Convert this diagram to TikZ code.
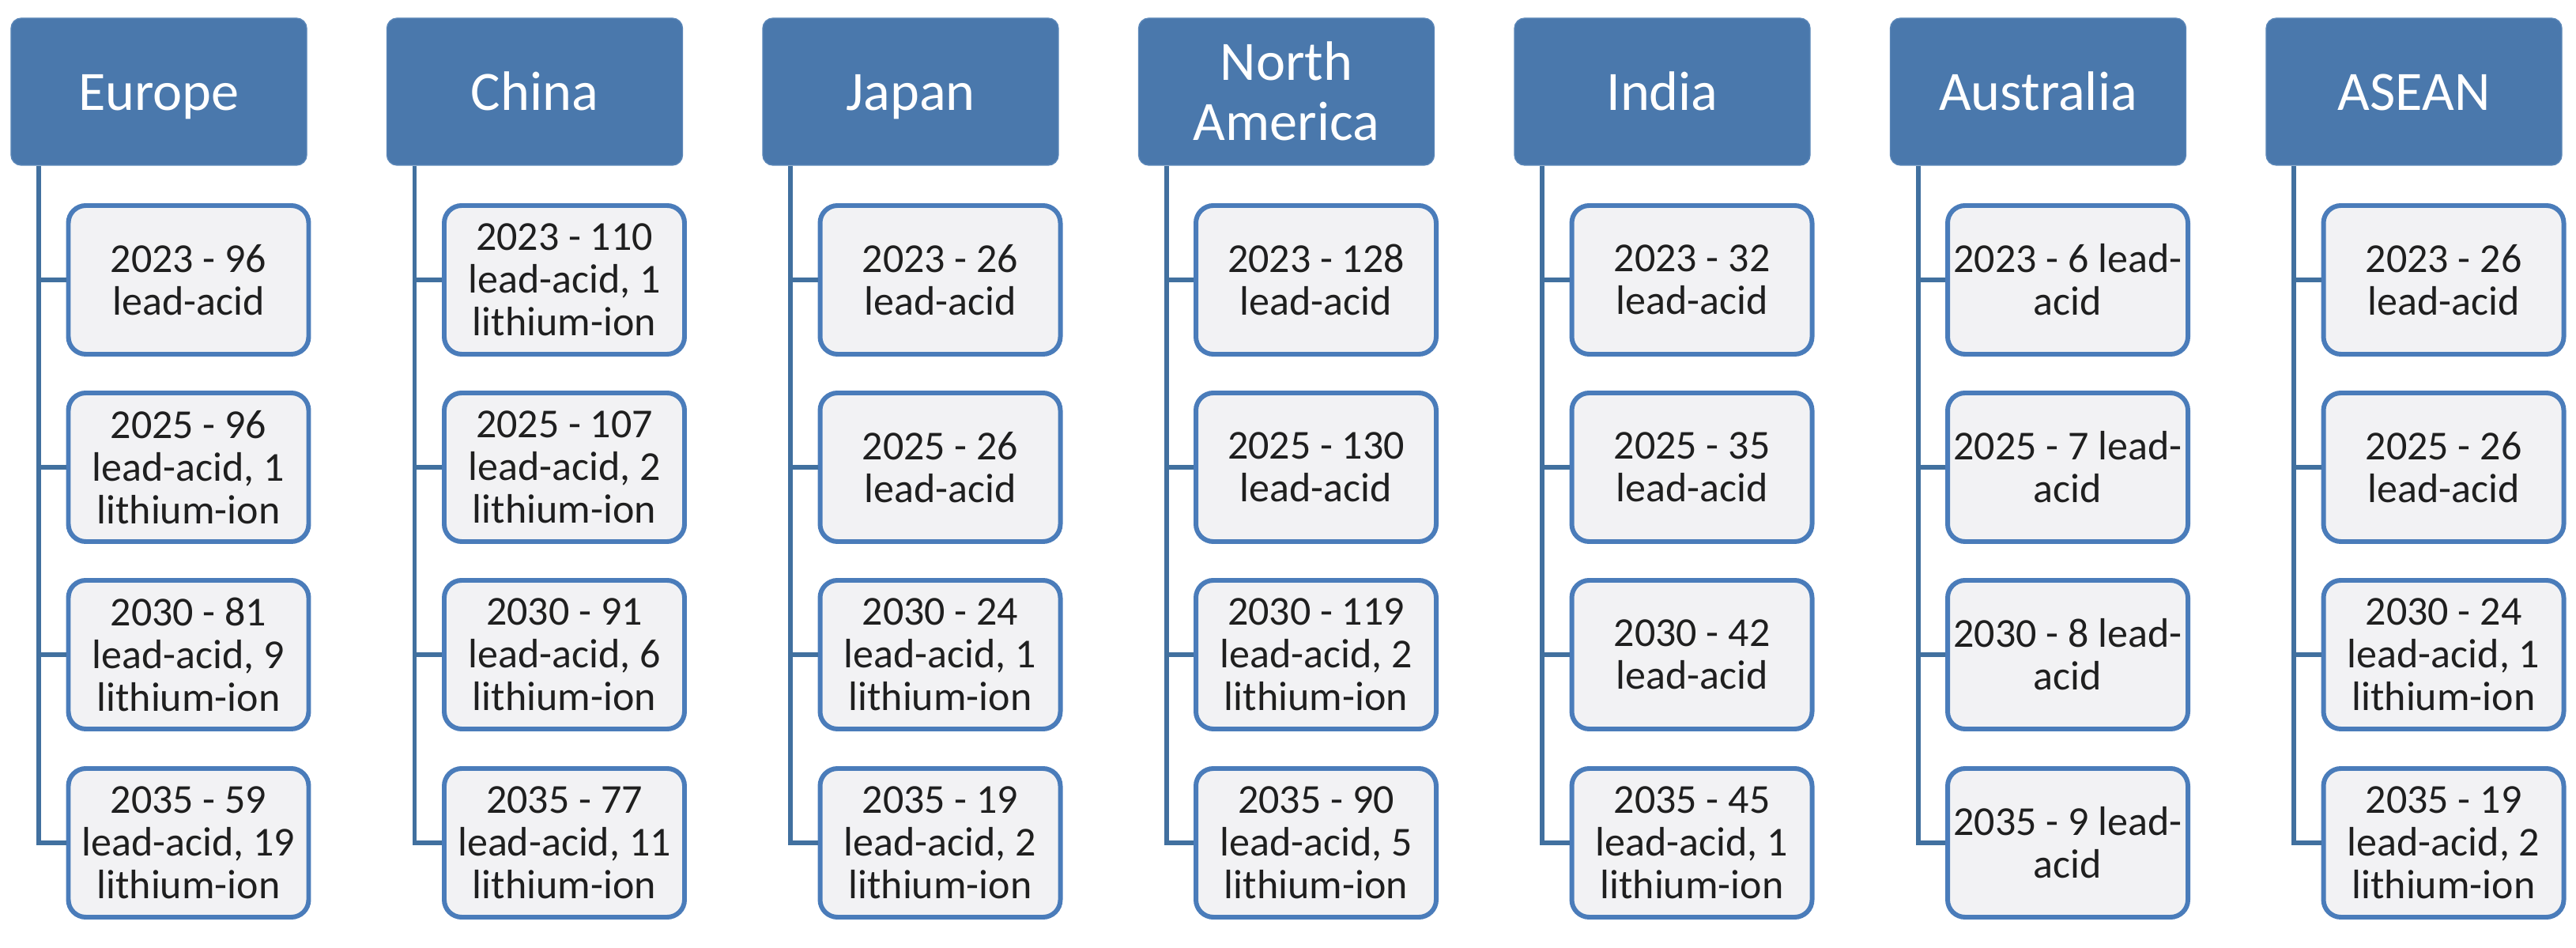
\documentclass[tikz,border=0pt]{standalone}
\usepackage{fontspec}
\setmainfont{Carlito}
\definecolor{hdrfill}{HTML}{4A78AC}
\definecolor{hdredge}{HTML}{5A86B8}
\definecolor{boxfill}{HTML}{F2F2F4}
\definecolor{boxedge}{HTML}{4A7CBA}
\definecolor{connc}{HTML}{41709F}
\tikzset{
  hdr/.style={rectangle, rounded corners=0.13cm, fill=hdrfill, draw=hdredge, line width=0.4pt,
    minimum width=3.74cm, minimum height=1.86cm, inner sep=0pt, text=white, align=center,
    font=\fontsize{20}{21.5}\selectfont},
  cbox/.style={rectangle, rounded corners=0.22cm, fill=boxfill, draw=boxedge, line width=1.7pt,
    minimum width=3.04cm, minimum height=1.88cm, inner sep=0pt, text=black!88, align=center,
    font=\fontsize{14.8}{15.3}\selectfont},
  conn/.style={draw=connc, line width=1.7pt}
}
\newcommand\regioncol[6]{%
  \pgfmathsetmacro\hx{2.01+4.755*#1}%
  \pgfmathsetmacro\cx{2.385+4.755*#1}%
  \node[hdr] (h#1) at (\hx,-1.16) {\rule{0pt}{0.58cm}#2\vphantom{p}};
  \node[cbox] (c#1a) at (\cx,-3.54) {#3};
  \node[cbox] (c#1b) at (\cx,-5.91) {#4};
  \node[cbox] (c#1c) at (\cx,-8.28) {#5};
  \node[cbox] (c#1d) at (\cx,-10.66) {#6};
  \path (h#1.south) ++(-1.52,0) coordinate (v#1);
  \draw[conn] (v#1) |- (c#1d.west);
  \draw[conn] (v#1 |- c#1a.west) -- (c#1a.west);
  \draw[conn] (v#1 |- c#1b.west) -- (c#1b.west);
  \draw[conn] (v#1 |- c#1c.west) -- (c#1c.west);
}
\begin{document}
\begin{tikzpicture}
\useasboundingbox[fill=white] (0,0) rectangle (32.59,-11.99);
\regioncol{0}{Europe}{2023 - 96\\lead-acid}{2025 - 96\\lead-acid, 1\\lithium-ion}{2030 - 81\\lead-acid, 9\\lithium-ion}{2035 - 59\\lead-acid, 19\\lithium-ion}
\regioncol{1}{China}{2023 - 110\\lead-acid, 1\\lithium-ion}{2025 - 107\\lead-acid, 2\\lithium-ion}{2030 - 91\\lead-acid, 6\\lithium-ion}{2035 - 77\\lead-acid, 11\\lithium-ion}
\regioncol{2}{Japan}{2023 - 26\\lead-acid}{2025 - 26\\lead-acid}{2030 - 24\\lead-acid, 1\\lithium-ion}{2035 - 19\\lead-acid, 2\\lithium-ion}
\regioncol{3}{North\\America}{2023 - 128\\lead-acid}{2025 - 130\\lead-acid}{2030 - 119\\lead-acid, 2\\lithium-ion}{2035 - 90\\lead-acid, 5\\lithium-ion}
\regioncol{4}{India}{2023 - 32\\lead-acid}{2025 - 35\\lead-acid}{2030 - 42\\lead-acid}{2035 - 45\\lead-acid, 1\\lithium-ion}
\regioncol{5}{Australia}{2023 - 6 lead-\\acid}{2025 - 7 lead-\\acid}{2030 - 8 lead-\\acid}{2035 - 9 lead-\\acid}
\regioncol{6}{ASEAN}{2023 - 26\\lead-acid}{2025 - 26\\lead-acid}{2030 - 24\\lead-acid, 1\\lithium-ion}{2035 - 19\\lead-acid, 2\\lithium-ion}
\end{tikzpicture}
\end{document}
